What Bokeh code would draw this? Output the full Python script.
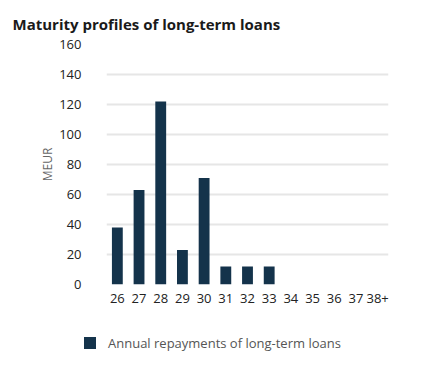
from bokeh.plotting import figure
from bokeh.layouts import column
from bokeh.models import ColumnDataSource, FixedTicker, Range1d, Div
from bokeh.embed import file_html
from bokeh.resources import INLINE

years = ["26", "27", "28", "29", "30", "31", "32", "33", "34", "35", "36", "37", "38+"]
repayments = [38, 63, 122, 23, 71, 12, 12, 12, 0, 0, 0, 0, 0]
y_ticks = [0, 20, 40, 60, 80, 100, 120, 140, 160]
series_name = "Annual repayments of long-term loans"

FONT = "Open Sans"
BAR = "#14334b"

src = ColumnDataSource(dict(x=years, y=repayments))

p = figure(width=426, height=310, x_range=years, y_range=Range1d(0, 160),
           output_backend="svg", toolbar_location=None,
           min_border_left=106, min_border_right=38, min_border_top=44, min_border_bottom=26)
p.outline_line_color = None

p.title.text = "Maturity profiles of long-term loans"
p.title.text_font = FONT
p.title.text_font_size = "15px"
p.title.text_font_style = "bold"
p.title.text_color = "#1a1a1a"
p.title.offset = -94
p.title.standoff = 22

p.vbar(x="x", top="y", width=0.5, source=src, fill_color=BAR, line_color=None)

p.xgrid.grid_line_color = None
p.ygrid.grid_line_color = "#e6e6e6"
p.ygrid.grid_line_width = 2
p.yaxis.ticker = FixedTicker(ticks=y_ticks)

for ax in (p.xaxis[0], p.yaxis[0]):
    ax.axis_line_color = None
    ax.major_tick_line_color = None
    ax.minor_tick_line_color = None
    ax.major_label_text_font = FONT
    ax.major_label_text_font_size = "13px"
    ax.major_label_text_color = "#222222"

p.yaxis.major_label_standoff = 19
p.xaxis.major_label_standoff = 3
p.yaxis.axis_label = "MEUR"
p.yaxis.axis_label_text_font = FONT
p.yaxis.axis_label_text_font_size = "12px"
p.yaxis.axis_label_text_font_style = "normal"
p.yaxis.axis_label_text_color = "#666666"
p.yaxis.axis_label_standoff = 0

legend_html = (
    f'<div style="display:flex;align-items:center;padding-top:24px;padding-left:84px;'
    f'font-family:\'{FONT}\';font-size:13px;color:#555555;white-space:nowrap;">'
    f'<span style="display:inline-block;width:12px;height:12px;background:{BAR};'
    f'margin-right:12px;"></span>{series_name}</div>'
)
legend_div = Div(text=legend_html, width=426, height=50, margin=0)

layout = column(p, legend_div, spacing=0)
open("out.html", "w").write(file_html(layout, INLINE))
